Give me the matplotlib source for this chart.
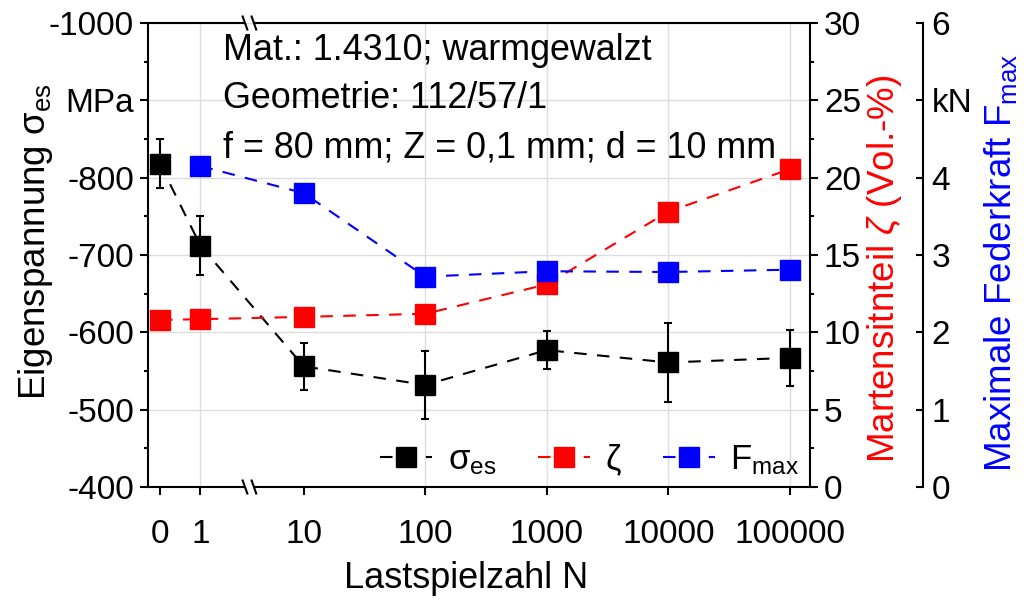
import numpy as np
import matplotlib
matplotlib.use("Agg")
import matplotlib.pyplot as plt
from matplotlib.lines import Line2D
from matplotlib.ticker import MultipleLocator, FixedLocator, FuncFormatter

plt.rcParams['font.family'] = ['Liberation Sans', 'DejaVu Sans']
plt.rcParams['mathtext.fontset'] = 'custom'
plt.rcParams['mathtext.rm'] = 'Liberation Sans'
plt.rcParams['mathtext.it'] = 'Liberation Sans:italic'
plt.rcParams['mathtext.sf'] = 'Liberation Sans'

# Load cycles (categorical axis with a break between 1 and 10)
cycles = ["0", "1", "10", "100", "1000", "10000", "100000"]

# Residual stress sigma_es in MPa with scatter
sigma_es = [-818, -712, -556, -532, -577, -561, -567]
sigma_err = [32, 38, 30, 44, 25, 51, 36]

# Martensite content zeta in Vol.-%
zeta = [10.8, 10.85, 11.0, 11.2, 13.1, 17.8, 20.55]

# Maximum spring force F_max in kN (no value at N = 0)
fmax_cycles = ["1", "10", "100", "1000", "10000", "100000"]
fmax = [4.15, 3.80, 2.72, 2.79, 2.78, 2.81]

# axis positions: 0 and 1 close together, decades evenly spaced after the break
def cat_pos(label):
    i = cycles.index(label)
    return float(i) if i < 2 else 3.55 + 3.0 * (i - 2)

xpos = np.array([cat_pos(c) for c in cycles])
xpos_f = np.array([cat_pos(c) for c in fmax_cycles])

fig = plt.figure(figsize=(10.35, 6.05), dpi=100)
ax = fig.add_axes([148 / 1035, 1 - 487 / 605, 662 / 1035, 464 / 605])
ax2 = ax.twinx()
ax3 = ax.twinx()

FS_TICK = 24
FS_LABEL = 26.5
dash = (0, (6, 5))
msize = 13.8
LW = 1.5

# residual stress
ax.errorbar(xpos, sigma_es, yerr=sigma_err, color='black', ls=dash, lw=LW,
            marker='s', ms=msize, mec='black', mfc='black',
            elinewidth=1.5, capsize=3, capthick=1.5, zorder=3)
# martensite
ax2.plot(xpos, zeta, color='red', ls=dash, lw=LW, marker='s', ms=msize,
         mec='red', mfc='red', zorder=3)
# spring force
ax3.plot(xpos_f, fmax, color='blue', ls=dash, lw=LW, marker='s', ms=msize,
         mec='blue', mfc='blue', zorder=3)

# ---- x axis
ax.set_xlim(-0.296, 16.05)
ax.set_xticks(xpos)
ax.set_xticklabels(cycles)
ax.tick_params(axis='x', direction='out', length=6, width=1.5, pad=17,
               labelsize=FS_TICK)
ax.set_xlabel("Lastspielzahl N", fontsize=26)
ax.xaxis.set_label_coords(0.48, -0.16)

# ---- left axis
ax.set_ylim(-400, -1000)
ax.yaxis.set_major_locator(FixedLocator(np.arange(-1000, -399, 100)))
ax.yaxis.set_minor_locator(FixedLocator(np.arange(-950, -400, 100)))
ax.yaxis.set_major_formatter(FuncFormatter(
    lambda v, p: "MPa" if abs(v + 900) < 1e-6 else f"{v:.0f}"))
ax.tick_params(axis='y', which='major', direction='out', length=6, width=1.5,
               pad=4, labelsize=FS_TICK)
ax.tick_params(axis='y', which='minor', direction='out', length=3, width=1.5)
ax.set_ylabel("Eigenspannung σ$_{\\mathrm{es}}$", fontsize=FS_LABEL)
ax.yaxis.set_label_coords(-0.14, 0.53)

# grid
ax.grid(True, axis='y', color='#dddddd', lw=1.0, zorder=0)
ax.grid(True, axis='x', color='#dddddd', lw=1.0, zorder=0)
for i, gl in enumerate(ax.xaxis.get_gridlines()):
    gl.set_visible(i not in (0, 2))
ax.set_axisbelow(True)

# ---- right red axis
ax2.set_ylim(0, 30)
ax2.yaxis.set_major_locator(MultipleLocator(5))
ax2.yaxis.set_minor_locator(MultipleLocator(2.5))
ax2.tick_params(axis='y', which='major', direction='out', length=6, width=1.5,
                pad=4, labelsize=FS_TICK)
ax2.tick_params(axis='y', which='minor', direction='out', length=3, width=1.5)
ax2.set_ylabel(r"Martensitnteil $\zeta$ (Vol.-%)", color='red',
               fontsize=FS_LABEL)
ax2.yaxis.set_label_coords(1.083, 0.47)

# ---- second right axis (blue)
ax3.spines['right'].set_position(('axes', 1.171))
ax3.set_ylim(0, 6)
ax3.yaxis.set_major_locator(MultipleLocator(1))
ax3.yaxis.set_major_formatter(FuncFormatter(
    lambda v, p: "kN" if abs(v - 5) < 1e-6 else f"{v:.0f}"))
ax3.tick_params(axis='y', which='major', direction='in', length=5, width=1.5,
                pad=6, labelsize=FS_TICK)
ax3.set_ylabel(r"Maximale Federkraft F$_{\mathrm{max}}$", color='blue',
               fontsize=FS_LABEL)
ax3.yaxis.set_label_coords(1.26, 0.483)

# ---- spines, with break marks on the x axis
for a in (ax, ax2, ax3):
    a.spines['top'].set_visible(False)
    a.spines['bottom'].set_visible(False)
for a in (ax2, ax3):
    a.spines['left'].set_visible(False)
ax3.spines['right'].set_linewidth(1.5)
ax2.spines['right'].set_linewidth(1.5)
ax.spines['left'].set_linewidth(1.5)
ax.spines['right'].set_visible(False)

bl, br = 0.1465, 0.160
dx, dy = 0.0035, 0.014
for yy in (0.0, 1.0):
    ax.plot([0, bl], [yy, yy], transform=ax.transAxes, color='black', lw=1.5,
            clip_on=False, zorder=5, solid_capstyle='butt')
    ax.plot([br, 1], [yy, yy], transform=ax.transAxes, color='black', lw=1.5,
            clip_on=False, zorder=5, solid_capstyle='butt')
    for xb in (bl, br):
        ax.plot([xb - dx, xb + dx], [yy + dy, yy - dy], transform=ax.transAxes,
                color='black', lw=1.5, clip_on=False, zorder=5)

# ---- annotation
info = ["Mat.: 1.4310; warmgewalzt",
        "Geometrie: 112/57/1",
        "f = 80 mm; Z = 0,1 mm; d = 10 mm"]
for k, line in enumerate(info):
    ax.text(0.113, (487 - (60 + 48.5 * k)) / 464, line, transform=ax.transAxes,
            fontsize=25.8, va='baseline', ha='left', zorder=6)

# ---- legend
handles = [
    Line2D([], [], color='black', ls=dash, lw=LW, marker='s', ms=msize),
    Line2D([], [], color='red', ls=dash, lw=LW, marker='s', ms=msize),
    Line2D([], [], color='blue', ls=dash, lw=LW, marker='s', ms=msize),
]
labels = ["σ$_{\\mathrm{es}}$", "ζ", r"F$_{\mathrm{max}}$"]
ax3.legend(handles, labels, loc='lower right', bbox_to_anchor=(1.0, 0.0),
           ncol=3, frameon=False, fontsize=25, handlelength=1.5,
           handletextpad=0.45, columnspacing=1.2, borderaxespad=0.2,
           borderpad=0.1, numpoints=1)

fig.savefig("out.png", dpi=100)
